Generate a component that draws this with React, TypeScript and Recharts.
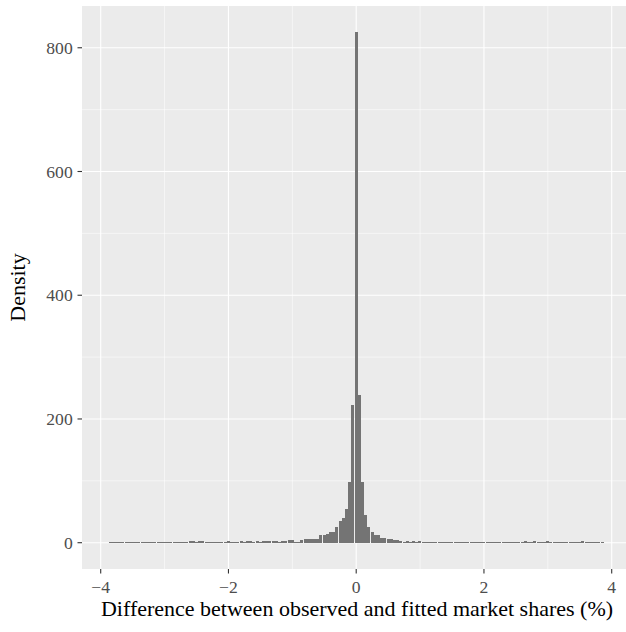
import React from 'react';
import { ComposedChart, Bar, XAxis, YAxis, CartesianGrid, Label } from 'recharts';

// Histogram bin centres (bin width 0.05, % points)
const binCenters: number[] = [
  -3.85, -3.8, -3.75, -3.7, -3.65, -3.6, -3.55, -3.5, -3.45, -3.4,
  -3.35, -3.3, -3.25, -3.2, -3.15, -3.1, -3.05, -3.0, -2.95, -2.9,
  -2.85, -2.8, -2.75, -2.7, -2.65, -2.6, -2.55, -2.5, -2.45, -2.4,
  -2.35, -2.3, -2.25, -2.2, -2.15, -2.1, -2.05, -2.0, -1.95, -1.9,
  -1.85, -1.8, -1.75, -1.7, -1.65, -1.6, -1.55, -1.5, -1.45, -1.4,
  -1.35, -1.3, -1.25, -1.2, -1.15, -1.1, -1.05, -1.0, -0.95, -0.9,
  -0.85, -0.8, -0.75, -0.7, -0.65, -0.6, -0.55, -0.5, -0.45, -0.4,
  -0.35, -0.3, -0.25, -0.2, -0.15, -0.1, -0.05, 0,
  0.05, 0.1, 0.15, 0.2, 0.25, 0.3, 0.35, 0.4, 0.45, 0.5,
  0.55, 0.6, 0.65, 0.7, 0.75, 0.8, 0.85, 0.9, 0.95, 1.0,
  1.05, 1.1, 1.15, 1.2, 1.25, 1.3, 1.35, 1.4, 1.45, 1.5,
  1.55, 1.6, 1.65, 1.7, 1.75, 1.8, 1.85, 1.9, 1.95, 2.0,
  2.05, 2.1, 2.15, 2.2, 2.25, 2.3, 2.35, 2.4, 2.45, 2.5,
  2.55, 2.6, 2.65, 2.7, 2.75, 2.8, 2.85, 2.9, 2.95, 3.0,
  3.05, 3.1, 3.15, 3.2, 3.25, 3.3, 3.35, 3.4, 3.45, 3.5,
  3.55, 3.6, 3.65, 3.7, 3.75, 3.8, 3.85,
];

// Density per bin
const densities: number[] = [
  // -3.85 .. -2.65
  1.2, 1.0, 1.0, 1.2, 1.0, 1.0, 1.2, 1.0, 1.0, 1.0,
  1.2, 1.0, 1.0, 1.2, 1.0, 1.0, 1.0, 1.2, 1.0, 1.0,
  1.2, 1.0, 1.0, 1.2, 1.0,
  // -2.6 .. -2.35
  2.0, 2.4, 1.6, 2.2, 2.4, 1.4,
  // -2.3 .. -2.05
  1.0, 1.2, 1.0, 1.2, 1.0, 1.2,
  // -2.0
  2.2,
  // -1.95, -1.9
  1.2, 1.2,
  // -1.85 .. -1.55
  1.8, 2.0, 1.6, 2.4, 2.0, 1.8, 2.2,
  // -1.5
  1.4,
  // -1.45 .. -1.25
  2.4, 2.0, 2.6, 2.2, 2.4,
  // -1.2
  1.6,
  // -1.15, -1.1
  2.4, 2.4,
  // -1.05, -1.0
  4.0, 4.0,
  // -0.95, -0.9
  1.9, 1.9,
  // -0.85
  4.6,
  // -0.8 .. -0.6
  5.8, 6.2, 6.4, 6.2, 6.6,
  // -0.55, -0.5
  12.1, 12.1,
  // -0.45
  14.8,
  // -0.4, -0.35
  17.5, 17.5,
  // -0.3 .. -0.05
  25.6, 34.8, 40.1, 55.2, 98.3, 222,
  // 0
  825,
  // 0.05 .. 0.25
  238.4, 98.3, 44.4, 25.6, 17.5,
  // 0.3 .. 0.7
  12.1, 12.1, 7.3, 7.3, 5.7, 5.7, 4.6, 4.6, 3.0,
  // 0.75 .. 1.0
  1.9, 2.0, 1.9, 2.1, 1.9, 2.0,
  // 1.05 .. 1.3
  1.2, 1.0, 1.2, 1.0, 1.2, 1.0,
  // 1.35 .. 2.55
  1.0, 1.2, 1.0, 1.0, 1.2, 1.0, 1.0, 1.2, 1.0, 1.0,
  1.2, 1.0, 1.0, 1.2, 1.0, 1.0, 1.0, 1.2, 1.0, 1.0,
  1.2, 1.0, 1.0, 1.2, 1.0,
  // 2.6 .. 3.2
  1.6, 2.0, 1.8, 1.6, 2.0, 1.8, 1.6, 1.8, 2.0, 1.6, 1.8, 1.6, 1.4,
  // 3.25, 3.3
  1.6, 1.6,
  // 3.35
  1.0,
  // 3.4 .. 3.7
  1.6, 1.8, 1.6, 2.0, 1.6, 1.8, 1.6,
  // 3.75, 3.8, 3.85
  1.0, 1.6, 1.0,
];

const xTicks: number[] = [-4, -2, 0, 2, 4];
const xTickLabels: string[] = ['\u22124', '\u22122', '0', '2', '4'];
const xMinor: number[] = [-3, -1, 1, 3];
const yTicks: number[] = [0, 200, 400, 600, 800];
const yTickLabels: string[] = ['0', '200', '400', '600', '800'];
const yMinor: number[] = [100, 300, 500, 700];

const xTitle = 'Difference between observed and fitted market shares (%)';
const yTitle = 'Density';

const data = binCenters.map((x, i) => ({ x, density: densities[i] }));

const FONT = "'Liberation Serif', 'Times New Roman', serif";

export default function App() {
  return (
    <div style={{ position: 'absolute', left: 0, top: 0, width: 626, height: 632, fontFamily: FONT }}>
      <style>{`.recharts-bar-rectangle path { shape-rendering: crispEdges; }
.recharts-cartesian-axis-tick-value, .recharts-cartesian-axis-tick-value tspan, .recharts-surface text { font-family: 'Liberation Serif', 'Times New Roman', serif !important; }`}</style>
      <ComposedChart
        width={626}
        height={632}
        data={data}
        margin={{ top: 6, right: 0, bottom: 0, left: 0 }}
        barCategoryGap={0}
        barGap={0}
        style={{ fontFamily: FONT }}
      >
        <CartesianGrid
          fill="#EBEBEB"
          stroke="#FFFFFF"
          strokeWidth={0.55}
          horizontalValues={yMinor}
          verticalValues={xMinor}
        />
        <CartesianGrid
          stroke="#FFFFFF"
          strokeWidth={1.1}
          horizontalValues={yTicks}
          verticalValues={xTicks}
        />
        <XAxis
          type="number"
          dataKey="x"
          domain={[-4.2928, 4.2238]}
          allowDataOverflow
          ticks={xTicks}
          interval={0}
          height={63}
          axisLine={false}
          tickLine={{ stroke: '#333333', strokeWidth: 1.1 }}
          tickSize={4.5}
          tickMargin={7}
          tick={{ fill: '#4D4D4D', fontSize: 17.6, fontFamily: FONT }}
          tickFormatter={(v: number) => xTickLabels[xTicks.indexOf(v)] ?? String(v)}
        >
          <Label
            content={() => (
              <text x={357} y={616} textAnchor="middle" fontFamily={FONT} fontSize={22} fill="#000000">
                {xTitle}
              </text>
            )}
          />
        </XAxis>
        <YAxis
          type="number"
          domain={[-42.5, 867.5]}
          allowDataOverflow
          ticks={yTicks}
          interval={0}
          width={82}
          axisLine={false}
          tickLine={{ stroke: '#333333', strokeWidth: 1.1 }}
          tickSize={4.5}
          tickMargin={4.8}
          tick={{ fill: '#4D4D4D', fontSize: 17.6, fontFamily: FONT }}
          tickFormatter={(v: number) => yTickLabels[yTicks.indexOf(v)] ?? String(v)}
        >
          <Label
            content={() => (
              <text
                x={25}
                y={287.5}
                textAnchor="middle"
                transform="rotate(-90, 25, 287.5)"
                fontFamily={FONT}
                fontSize={22}
                fill="#000000"
              >
                {yTitle}
              </text>
            )}
          />
        </YAxis>
        <Bar dataKey="density" fill="#747474" isAnimationActive={false} />
      </ComposedChart>
    </div>
  );
}
